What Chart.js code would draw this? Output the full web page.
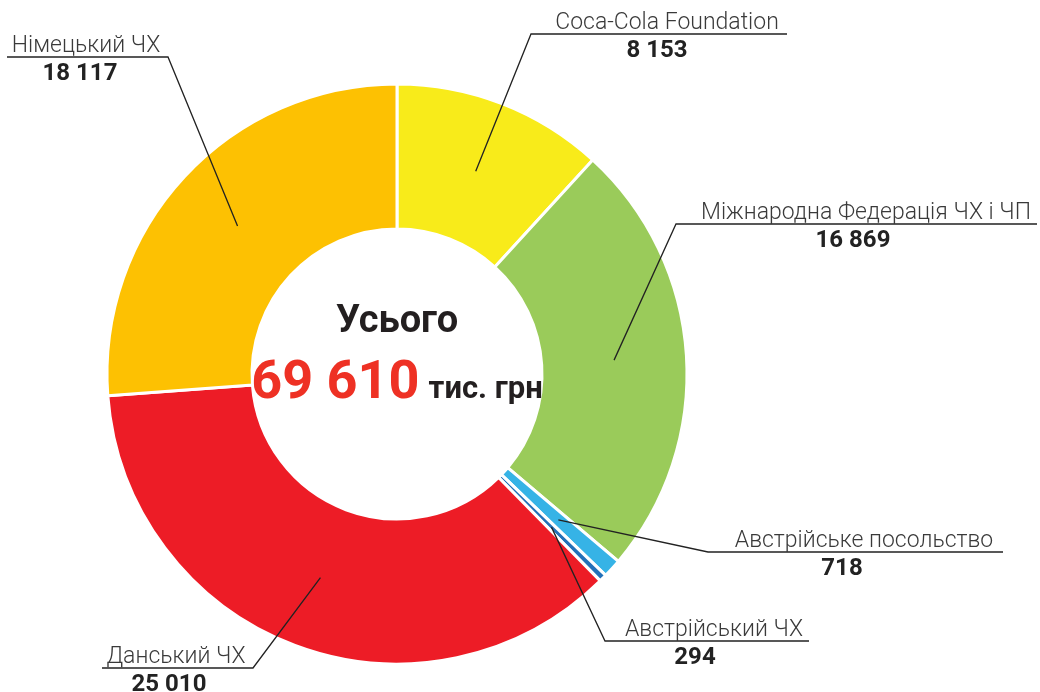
<!DOCTYPE html>
<html><head><meta charset="utf-8">
<script src="https://cdn.jsdelivr.net/npm/chart.js@4"></script>
<style>html,body{margin:0;padding:0;background:#fff;overflow:hidden}canvas{display:block}</style>
</head><body>
<canvas id="c" width="1040" height="692"></canvas>
<script>
// ---- data ----
const categories = ['Coca-Cola Foundation', 'Міжнародна Федерація ЧХ і ЧП', 'Австрійське посольство', 'Австрійський ЧХ', 'Данський ЧХ', 'Німецький ЧХ'];
const values = [8153, 16869, 718, 294, 25010, 18117];
const centerTitle = 'Усього';
const totalText = '69 610';
const unitText = 'тис. грн';

// ---- styles ----
const colors = ['#F8EB1A', '#9ACB5A', '#36B3E6', '#2371B9', '#ED1C26', '#FDC102'];
// label placement: elbow point, underline other end, label centre x, value centre x
const labelLayout = [
  {ex: 531, ey: 34, x2: 787, lx: 667, vx: 657},
  {ex: 676, ey: 224, x2: 1037, lx: 866, vx: 853},
  {ex: 708, ey: 552, x2: 1003, lx: 864, vx: 842},
  {ex: 605, ey: 641, x2: 809, lx: 714, vx: 695},
  {ex: 253, ey: 668, x2: 102, lx: 176, vx: 169},
  {ex: 168, ey: 57, x2: 7, lx: 86, vx: 80}
];

function fmt(v) { return String(v).replace(/\B(?=(\d{3})+(?!\d))/g, ' '); }

const labelsPlugin = {
  id: 'labelsPlugin',
  afterDraw(chart) {
    const ctx = chart.ctx;
    const meta = chart.getDatasetMeta(0);
    ctx.save();
    meta.data.forEach((arc, i) => {
      const p = arc.tooltipPosition();
      const L = labelLayout[i];
      ctx.strokeStyle = '#222';
      ctx.lineWidth = 1.3;
      ctx.beginPath();
      ctx.moveTo(p.x, p.y);
      ctx.lineTo(L.ex, L.ey);
      ctx.lineTo(L.x2, L.ey);
      ctx.stroke();
      ctx.textAlign = 'center';
      ctx.textBaseline = 'alphabetic';
      ctx.fillStyle = '#3a3a3a';
      ctx.font = '300 23px "Roboto Light", Roboto';
      ctx.fillText(categories[i], L.lx, L.ey - 5);
      ctx.fillStyle = '#222';
      ctx.font = 'bold 24px Roboto';
      ctx.fillText(fmt(values[i]), L.vx, L.ey + 23);
    });
    // centre text
    const a0 = meta.data[0];
    const cx = a0.x, cy = a0.y;
    ctx.textAlign = 'center';
    ctx.fillStyle = '#231F20';
    ctx.font = 'bold 38px Roboto';
    ctx.fillText(centerTitle, cx, cy - 42);
    ctx.font = 'bold 54px Roboto';
    const w1 = ctx.measureText(totalText).width;
    ctx.font = 'bold 31px Roboto';
    const w2 = ctx.measureText(unitText).width;
    const gap = 9;
    const start = cx - (w1 + gap + w2) / 2;
    ctx.textAlign = 'left';
    ctx.font = 'bold 54px Roboto';
    ctx.fillStyle = '#EE3124';
    ctx.fillText(totalText, start, cy + 24);
    ctx.font = 'bold 31px Roboto';
    ctx.fillStyle = '#231F20';
    ctx.fillText(unitText, start + w1 + gap, cy + 24);
    ctx.restore();
  }
};

new Chart(document.getElementById('c'), {
  type: 'doughnut',
  data: {
    labels: categories,
    datasets: [{
      data: values,
      backgroundColor: colors,
      borderColor: '#ffffff',
      borderWidth: 3,
      hoverOffset: 0
    }]
  },
  options: {
    responsive: false,
    animation: false,
    devicePixelRatio: 1,
    cutout: '50%',
    radius: 290,
    layout: {padding: {left: 100, right: 346, top: 77, bottom: 21}},
    plugins: {legend: {display: false}, tooltip: {enabled: false}, title: {display: false}}
  },
  plugins: [labelsPlugin]
});
</script>
</body></html>
